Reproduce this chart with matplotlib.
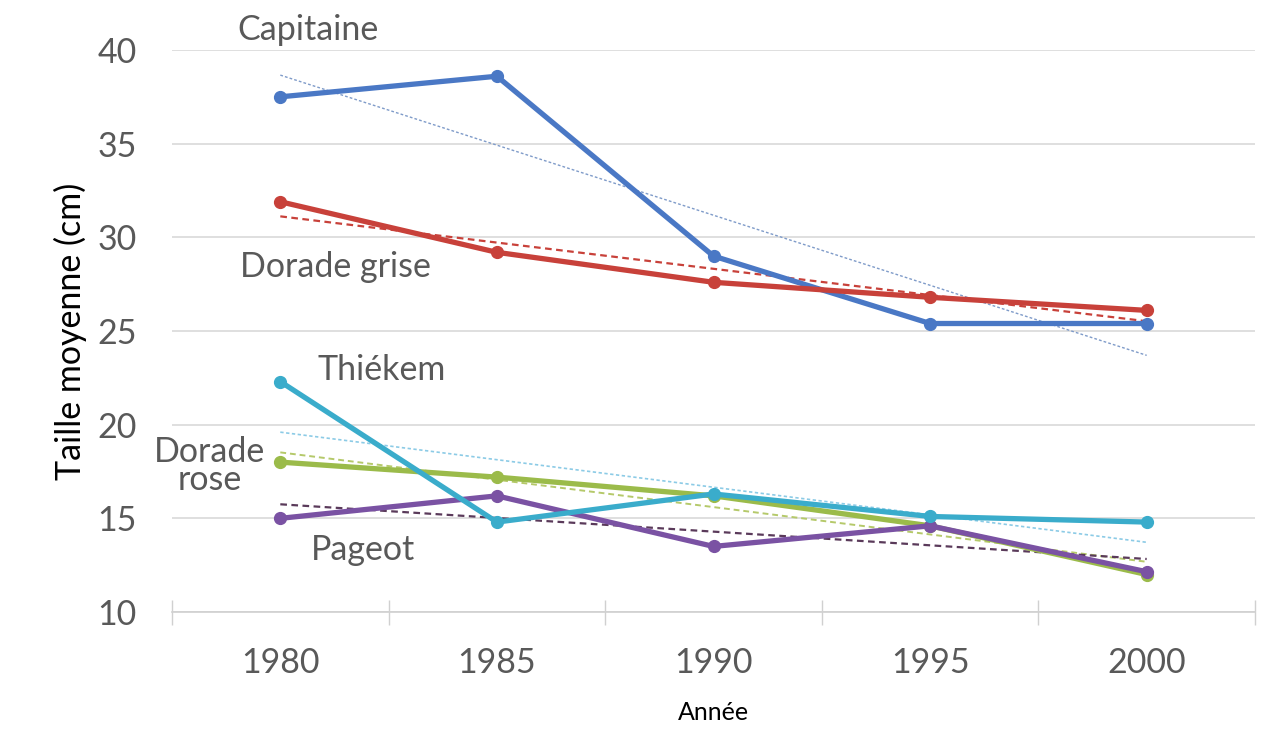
import numpy as np
import matplotlib
matplotlib.use("Agg")
import matplotlib.pyplot as plt
from matplotlib.ticker import FixedLocator

plt.rcParams['font.family'] = ['Lato', 'DejaVu Sans']

years = ["1980", "1985", "1990", "1995", "2000"]
capitaine = [37.5, 38.6, 29.0, 25.4, 25.4]
dorade_grise = [31.9, 29.2, 27.6, 26.8, 26.1]
thiekem = [22.3, 14.8, 16.3, 15.1, 14.8]
dorade_rose = [18.0, 17.2, 16.2, 14.6, 12.0]
pageot = [15.0, 16.2, 13.5, 14.6, 12.15]

yticks = [10, 15, 20, 25, 30, 35, 40]

series = [
    ("Capitaine", capitaine, "#4a78c5", "#7f9bc9", (0, (2, 1.5)), 1.0),
    ("Dorade grise", dorade_grise, "#c8413a", "#c8413a", (0, (3, 2)), 1.6),
    ("Dorade rose", dorade_rose, "#9bbb4a", "#b5c96a", (0, (3, 2)), 1.4),
    ("Pageot", pageot, "#7a52a3", "#5a3a5a", (0, (3, 2)), 1.6),
    ("Thiékem", thiekem, "#3aaccb", "#8ccbe6", (0, (2, 1.5)), 1.2),
]

fig = plt.figure(figsize=(12.62, 7.30), dpi=100)
ax = fig.add_axes([172/1262, 1-612/730, (1255-172)/1262, (612-50)/730])

x = np.arange(len(years))
for name, vals, col, tcol, tls, tlw in series:
    p = np.polyfit(x, vals, 1)
    ax.plot(x, np.polyval(p, x), color=tcol, ls=tls, lw=tlw, zorder=3)
for name, vals, col, tcol, tls, tlw in series:
    ax.plot(x, vals, color=col, lw=3.8, marker="o", ms=8.5, zorder=4,
            solid_capstyle="round")

ax.set_xlim(-0.5, len(years) - 0.5)
ax.set_ylim(10, 40)
ax.set_yticks(yticks)
ax.set_xticks(x)
ax.set_xticklabels(years)
ax.xaxis.set_minor_locator(FixedLocator(np.arange(-0.5, len(years), 1.0)))
ax.tick_params(axis="x", which="major", length=0, pad=25, labelsize=24.5,
               labelcolor="#595959")
ax.tick_params(axis="x", which="minor", direction="inout", length=18,
               color="#d0d0d0", width=1)
ax.tick_params(axis="y", length=0, pad=25.5, labelsize=24.5, labelcolor="#595959")
ax.grid(axis="y", color="#d9d9d9", lw=1.2, zorder=0)
for s in ["top", "right", "left"]:
    ax.spines[s].set_visible(False)
ax.spines["bottom"].set_color("#d0d0d0")
ax.spines["bottom"].set_linewidth(1.2)

ax.set_ylabel("Taille moyenne (cm)", fontsize=24.5, color="black", labelpad=7)
ax.set_xlabel("Année", fontsize=18, color="black", labelpad=16)

lab = dict(fontsize=24.5, color="#595959", ha="center", va="center", zorder=6,
           clip_on=False)
ax.text(0.13, 41.07, "Capitaine", **lab)
ax.text(0.253, 28.42, "Dorade grise", **lab)
ax.text(0.47, 22.92, "Thiékem", **lab)
ax.text(-0.327, 17.77, "Dorade\nrose", linespacing=0.85, **lab)
ax.text(0.38, 13.3, "Pageot", **lab)

fig.savefig("out.png", dpi=100)
